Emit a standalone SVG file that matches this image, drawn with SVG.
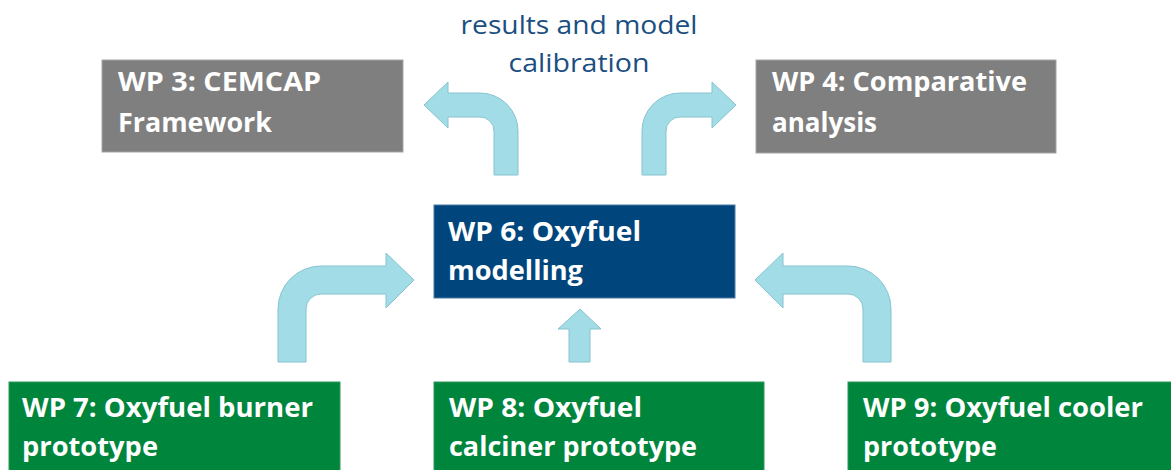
<svg xmlns="http://www.w3.org/2000/svg" width="1171" height="470" viewBox="0 0 1171 470">
  <style>
    .gray { fill: #7f7f7f; stroke: #a6a6a6; stroke-width: 1; }
    .blue { fill: #00457c; stroke: #4a7aa6; stroke-width: 1; }
    .green { fill: #00853d; stroke: #2f9a5c; stroke-width: 1; }
    .lbl { font-family: "Open Sans", "Liberation Sans", sans-serif; font-size: 26px; font-weight: bold; fill: #ffffff; }
    .cap { font-family: "Open Sans", "Liberation Sans", sans-serif; font-size: 26px; fill: #1b4f82; }
    .arrow { fill: #a2dce7; stroke: #86c4d0; stroke-width: 1; }
  </style>
  <rect width="1171" height="470" fill="#ffffff"/>

  <g id="caption">
    <text class="cap" x="579" y="34" text-anchor="middle" textLength="237" lengthAdjust="spacingAndGlyphs">results and model</text>
    <text class="cap" x="579" y="72" text-anchor="middle" textLength="141" lengthAdjust="spacingAndGlyphs">calibration</text>
  </g>

  <g id="connectors">
    <path class="arrow" d="M494,175 L494,131 A14,14 0 0 0 480,117 L448,117 L448,128 L424,105 L448,82 L448,93 L480,93 A38,38 0 0 1 518,131 L518,175 Z"/>
    <path class="arrow" d="M666,175 L666,131 A14,14 0 0 1 680,117 L712,117 L712,128 L736,105 L712,82 L712,93 L680,93 A38,38 0 0 0 642,131 L642,175 Z"/>
    <path class="arrow" d="M278,362 L278,309 A43,43 0 0 1 321,266 L386,266 L386,253 L414,280 L386,308 L386,294 L321,294 A15,15 0 0 0 306,309 L306,362 Z"/>
    <path class="arrow" d="M891,362 L891,309 A43,43 0 0 0 848,266 L783,266 L783,253 L755,280 L783,308 L783,294 L848,294 A15,15 0 0 1 863,309 L863,362 Z"/>
    <path class="arrow" d="M569,362 L569,329 L558,329 L580,309 L601,329 L590,329 L590,362 Z"/>
  </g>

  <g id="wp3">
    <rect class="gray" x="102" y="60" width="301" height="92"/>
    <text class="lbl" x="118" y="91" textLength="203" lengthAdjust="spacingAndGlyphs">WP 3: CEMCAP</text>
    <text class="lbl" x="118" y="132" textLength="154" lengthAdjust="spacingAndGlyphs">Framework</text>
  </g>
  <g id="wp4">
    <rect class="gray" x="756" y="60" width="300" height="93"/>
    <text class="lbl" x="772" y="91" textLength="255" lengthAdjust="spacingAndGlyphs">WP 4: Comparative</text>
    <text class="lbl" x="772" y="132" textLength="105" lengthAdjust="spacingAndGlyphs">analysis</text>
  </g>
  <g id="wp6">
    <rect class="blue" x="434" y="205" width="301" height="93"/>
    <text class="lbl" x="448" y="241" textLength="193" lengthAdjust="spacingAndGlyphs">WP 6: Oxyfuel</text>
    <text class="lbl" x="448" y="280" textLength="135" lengthAdjust="spacingAndGlyphs">modelling</text>
  </g>
  <g id="wp7">
    <rect class="green" x="9" y="382" width="331" height="100"/>
    <text class="lbl" x="22" y="417" textLength="291" lengthAdjust="spacingAndGlyphs">WP 7: Oxyfuel burner</text>
    <text class="lbl" x="22" y="456" textLength="136" lengthAdjust="spacingAndGlyphs">prototype</text>
  </g>
  <g id="wp8">
    <rect class="green" x="434" y="382" width="330" height="100"/>
    <text class="lbl" x="449" y="417" textLength="193" lengthAdjust="spacingAndGlyphs">WP 8: Oxyfuel</text>
    <text class="lbl" x="449" y="456" textLength="248" lengthAdjust="spacingAndGlyphs">calciner prototype</text>
  </g>
  <g id="wp9">
    <rect class="green" x="848" y="382" width="330" height="100"/>
    <text class="lbl" x="863" y="417" textLength="280" lengthAdjust="spacingAndGlyphs">WP 9: Oxyfuel cooler</text>
    <text class="lbl" x="863" y="456" textLength="134" lengthAdjust="spacingAndGlyphs">prototype</text>
  </g>
</svg>
